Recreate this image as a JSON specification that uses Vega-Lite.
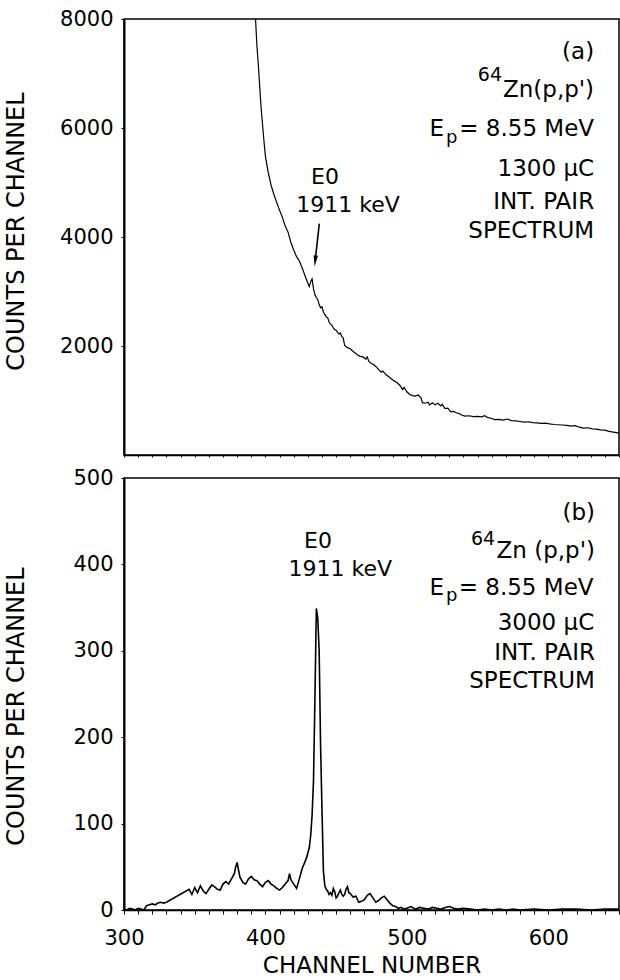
{
  "$schema": "https://vega.github.io/schema/vega-lite/v6.json",
  "padding": {"left": 3, "top": 7, "right": 2, "bottom": 0},
  "background": "white",
  "config": {
    "font": "DejaVu Sans",
    "view": {"stroke": "black", "strokeWidth": 1.5},
    "axis": {"domainColor": "black", "tickColor": "black", "labelColor": "black", "titleColor": "black", "grid": false, "labelFont": "DejaVu Sans", "titleFont": "DejaVu Sans", "titleFontWeight": "normal", "labelFontSize": 21, "titleFontSize": 24},
    "text": {"font": "DejaVu Sans", "color": "black"}
  },
  "datasets": {
    "a": [
      {"channel": 393, "counts": 8000}, {"channel": 394, "counts": 7500}, {"channel": 395, "counts": 7150}, {"channel": 396, "counts": 6750},
      {"channel": 397, "counts": 6350}, {"channel": 398, "counts": 6050}, {"channel": 399, "counts": 5750}, {"channel": 400, "counts": 5480},
      {"channel": 402, "counts": 5180}, {"channel": 404, "counts": 4950}, {"channel": 406, "counts": 4780}, {"channel": 408, "counts": 4630},
      {"channel": 410, "counts": 4490}, {"channel": 412, "counts": 4360}, {"channel": 414, "counts": 4200}, {"channel": 416, "counts": 4090},
      {"channel": 418, "counts": 3900}, {"channel": 420, "counts": 3760}, {"channel": 422, "counts": 3640}, {"channel": 424, "counts": 3560},
      {"channel": 426, "counts": 3430}, {"channel": 428, "counts": 3290}, {"channel": 430, "counts": 3150}, {"channel": 431, "counts": 3090},
      {"channel": 432, "counts": 3180}, {"channel": 433, "counts": 3230}, {"channel": 434, "counts": 3050}, {"channel": 435, "counts": 2940},
      {"channel": 436, "counts": 2890}, {"channel": 437, "counts": 2850}, {"channel": 438, "counts": 2760}, {"channel": 439, "counts": 2700},
      {"channel": 440, "counts": 2720}, {"channel": 441, "counts": 2620}, {"channel": 442, "counts": 2580}, {"channel": 443, "counts": 2530},
      {"channel": 444, "counts": 2520}, {"channel": 445, "counts": 2440}, {"channel": 446, "counts": 2400}, {"channel": 447, "counts": 2380},
      {"channel": 448, "counts": 2330}, {"channel": 449, "counts": 2300}, {"channel": 450, "counts": 2290}, {"channel": 451, "counts": 2250},
      {"channel": 452, "counts": 2220}, {"channel": 453, "counts": 2240}, {"channel": 454, "counts": 2170}, {"channel": 455, "counts": 2150},
      {"channel": 456, "counts": 2010}, {"channel": 457, "counts": 1990}, {"channel": 458, "counts": 1970}, {"channel": 460, "counts": 1950},
      {"channel": 462, "counts": 1900}, {"channel": 463, "counts": 1880}, {"channel": 465, "counts": 1840}, {"channel": 467, "counts": 1810},
      {"channel": 469, "counts": 1800}, {"channel": 471, "counts": 1760}, {"channel": 472, "counts": 1800}, {"channel": 473, "counts": 1720},
      {"channel": 475, "counts": 1680}, {"channel": 477, "counts": 1650}, {"channel": 479, "counts": 1600}, {"channel": 481, "counts": 1540},
      {"channel": 482, "counts": 1520}, {"channel": 483, "counts": 1540}, {"channel": 485, "counts": 1480}, {"channel": 487, "counts": 1440},
      {"channel": 489, "counts": 1400}, {"channel": 491, "counts": 1360}, {"channel": 493, "counts": 1330}, {"channel": 495, "counts": 1280},
      {"channel": 497, "counts": 1200}, {"channel": 498, "counts": 1240}, {"channel": 500, "counts": 1160}, {"channel": 502, "counts": 1110},
      {"channel": 504, "counts": 1090}, {"channel": 506, "counts": 1080}, {"channel": 508, "counts": 1100}, {"channel": 510, "counts": 1050},
      {"channel": 511, "counts": 960}, {"channel": 513, "counts": 950}, {"channel": 515, "counts": 970}, {"channel": 516, "counts": 920},
      {"channel": 518, "counts": 960}, {"channel": 520, "counts": 920}, {"channel": 522, "counts": 950}, {"channel": 524, "counts": 900},
      {"channel": 525, "counts": 930}, {"channel": 527, "counts": 850}, {"channel": 529, "counts": 860}, {"channel": 531, "counts": 790},
      {"channel": 533, "counts": 800}, {"channel": 535, "counts": 775}, {"channel": 537, "counts": 760}, {"channel": 539, "counts": 730},
      {"channel": 541, "counts": 715}, {"channel": 544, "counts": 720}, {"channel": 547, "counts": 705}, {"channel": 550, "counts": 710},
      {"channel": 553, "counts": 700}, {"channel": 555, "counts": 720}, {"channel": 557, "counts": 690}, {"channel": 560, "counts": 670},
      {"channel": 562, "counts": 650}, {"channel": 565, "counts": 655}, {"channel": 568, "counts": 640}, {"channel": 571, "counts": 660},
      {"channel": 574, "counts": 630}, {"channel": 577, "counts": 625}, {"channel": 580, "counts": 615}, {"channel": 583, "counts": 605},
      {"channel": 586, "counts": 610}, {"channel": 589, "counts": 595}, {"channel": 592, "counts": 590}, {"channel": 595, "counts": 580},
      {"channel": 598, "counts": 585}, {"channel": 601, "counts": 570}, {"channel": 604, "counts": 560}, {"channel": 607, "counts": 555},
      {"channel": 610, "counts": 550}, {"channel": 613, "counts": 545}, {"channel": 616, "counts": 530}, {"channel": 619, "counts": 540},
      {"channel": 622, "counts": 510}, {"channel": 625, "counts": 495}, {"channel": 628, "counts": 500}, {"channel": 631, "counts": 480},
      {"channel": 634, "counts": 475}, {"channel": 637, "counts": 460}, {"channel": 640, "counts": 455}, {"channel": 643, "counts": 435},
      {"channel": 646, "counts": 420}, {"channel": 648, "counts": 410}, {"channel": 650, "counts": 400}
    ],
    "b": [
      {"channel": 300, "counts": 1}, {"channel": 302, "counts": 0}, {"channel": 304, "counts": 2}, {"channel": 306, "counts": 1},
      {"channel": 308, "counts": 0}, {"channel": 310, "counts": 2}, {"channel": 312, "counts": 1}, {"channel": 314, "counts": 0},
      {"channel": 316, "counts": 5}, {"channel": 318, "counts": 6}, {"channel": 320, "counts": 7}, {"channel": 322, "counts": 6},
      {"channel": 324, "counts": 8}, {"channel": 326, "counts": 9}, {"channel": 328, "counts": 8}, {"channel": 330, "counts": 9},
      {"channel": 346, "counts": 24}, {"channel": 348, "counts": 18}, {"channel": 350, "counts": 26}, {"channel": 352, "counts": 20},
      {"channel": 354, "counts": 28}, {"channel": 356, "counts": 22}, {"channel": 358, "counts": 19}, {"channel": 360, "counts": 24},
      {"channel": 362, "counts": 29}, {"channel": 364, "counts": 27}, {"channel": 366, "counts": 24}, {"channel": 368, "counts": 23},
      {"channel": 370, "counts": 30}, {"channel": 372, "counts": 33}, {"channel": 374, "counts": 30}, {"channel": 376, "counts": 36},
      {"channel": 378, "counts": 42}, {"channel": 379, "counts": 50}, {"channel": 380, "counts": 55}, {"channel": 381, "counts": 46},
      {"channel": 382, "counts": 38}, {"channel": 384, "counts": 32}, {"channel": 386, "counts": 30}, {"channel": 388, "counts": 36},
      {"channel": 390, "counts": 39}, {"channel": 392, "counts": 35}, {"channel": 394, "counts": 34}, {"channel": 396, "counts": 30},
      {"channel": 398, "counts": 27}, {"channel": 400, "counts": 32}, {"channel": 402, "counts": 34}, {"channel": 404, "counts": 30},
      {"channel": 406, "counts": 28}, {"channel": 408, "counts": 25}, {"channel": 410, "counts": 23}, {"channel": 412, "counts": 26},
      {"channel": 414, "counts": 30}, {"channel": 416, "counts": 34}, {"channel": 417, "counts": 42}, {"channel": 418, "counts": 35},
      {"channel": 420, "counts": 30}, {"channel": 422, "counts": 25}, {"channel": 424, "counts": 36}, {"channel": 426, "counts": 48},
      {"channel": 428, "counts": 56}, {"channel": 429, "counts": 60}, {"channel": 430, "counts": 66}, {"channel": 431, "counts": 72},
      {"channel": 432, "counts": 86}, {"channel": 433, "counts": 110}, {"channel": 434, "counts": 150}, {"channel": 435, "counts": 245},
      {"channel": 436, "counts": 349}, {"channel": 437, "counts": 338}, {"channel": 438, "counts": 300}, {"channel": 439, "counts": 190},
      {"channel": 440, "counts": 115}, {"channel": 441, "counts": 45}, {"channel": 442, "counts": 28}, {"channel": 443, "counts": 24},
      {"channel": 444, "counts": 22}, {"channel": 445, "counts": 18}, {"channel": 446, "counts": 20}, {"channel": 447, "counts": 17},
      {"channel": 448, "counts": 25}, {"channel": 449, "counts": 21}, {"channel": 450, "counts": 14}, {"channel": 451, "counts": 16},
      {"channel": 452, "counts": 20}, {"channel": 453, "counts": 23}, {"channel": 454, "counts": 18}, {"channel": 455, "counts": 16},
      {"channel": 456, "counts": 18}, {"channel": 457, "counts": 24}, {"channel": 458, "counts": 27}, {"channel": 459, "counts": 20},
      {"channel": 460, "counts": 19}, {"channel": 462, "counts": 15}, {"channel": 464, "counts": 16}, {"channel": 466, "counts": 9},
      {"channel": 468, "counts": 10}, {"channel": 470, "counts": 12}, {"channel": 472, "counts": 17}, {"channel": 474, "counts": 19},
      {"channel": 476, "counts": 14}, {"channel": 478, "counts": 9}, {"channel": 480, "counts": 11}, {"channel": 482, "counts": 14},
      {"channel": 484, "counts": 16}, {"channel": 486, "counts": 12}, {"channel": 488, "counts": 8}, {"channel": 490, "counts": 5},
      {"channel": 492, "counts": 4}, {"channel": 494, "counts": 2}, {"channel": 496, "counts": 3}, {"channel": 498, "counts": 1},
      {"channel": 500, "counts": 2}, {"channel": 503, "counts": 4}, {"channel": 506, "counts": 1}, {"channel": 509, "counts": 3},
      {"channel": 512, "counts": 2}, {"channel": 515, "counts": 1}, {"channel": 518, "counts": 3}, {"channel": 521, "counts": 2},
      {"channel": 524, "counts": 1}, {"channel": 527, "counts": 3}, {"channel": 530, "counts": 4}, {"channel": 533, "counts": 2},
      {"channel": 536, "counts": 1}, {"channel": 540, "counts": 2}, {"channel": 545, "counts": 1}, {"channel": 550, "counts": 0},
      {"channel": 555, "counts": 1}, {"channel": 560, "counts": 0}, {"channel": 565, "counts": 1}, {"channel": 570, "counts": 0},
      {"channel": 575, "counts": 1}, {"channel": 580, "counts": 0}, {"channel": 590, "counts": 1}, {"channel": 600, "counts": 0},
      {"channel": 610, "counts": 1}, {"channel": 620, "counts": 1}, {"channel": 630, "counts": 0}, {"channel": 640, "counts": 1},
      {"channel": 650, "counts": 1}
    ],
    "notes": [
      {"panel": "a", "role": "r", "label": "(a)", "channel": 632.4, "counts": 7394},
      {"panel": "a", "role": "r", "label": "Zn(p,p')", "channel": 632.4, "counts": 6697},
      {"panel": "a", "role": "sup", "label": "64", "channel": 567.3, "counts": 6972},
      {"panel": "a", "role": "r", "label": "= 8.55 MeV", "channel": 632.4, "counts": 5982},
      {"panel": "a", "role": "r", "label": "E", "channel": 526.3, "counts": 5982},
      {"panel": "a", "role": "sub", "label": "p", "channel": 527.7, "counts": 5820},
      {"panel": "a", "role": "r", "label": "1300 μC", "channel": 632.4, "counts": 5253},
      {"panel": "a", "role": "r", "label": "INT. PAIR", "channel": 632.4, "counts": 4642},
      {"panel": "a", "role": "r", "label": "SPECTRUM", "channel": 632.4, "counts": 4104},
      {"panel": "a", "role": "c", "label": "E0", "channel": 442.1, "counts": 5101},
      {"panel": "a", "role": "c", "label": "1911 keV", "channel": 458.4, "counts": 4581},
      {"panel": "b", "role": "r", "label": "(b)", "channel": 633, "counts": 460},
      {"panel": "b", "role": "sup", "label": "64", "channel": 562.4, "counts": 429},
      {"panel": "b", "role": "r", "label": "Zn (p,p')", "channel": 633, "counts": 415},
      {"panel": "b", "role": "r", "label": "= 8.55 MeV", "channel": 632, "counts": 373},
      {"panel": "b", "role": "r", "label": "E", "channel": 526.3, "counts": 373},
      {"panel": "b", "role": "sub", "label": "p", "channel": 527.7, "counts": 363},
      {"panel": "b", "role": "r", "label": "3000 μC", "channel": 632.5, "counts": 332},
      {"panel": "b", "role": "r", "label": "INT. PAIR", "channel": 633, "counts": 298},
      {"panel": "b", "role": "r", "label": "SPECTRUM", "channel": 633, "counts": 264.5},
      {"panel": "b", "role": "c", "label": "E0", "channel": 437.2, "counts": 427},
      {"panel": "b", "role": "c", "label": "1911 keV", "channel": 453, "counts": 395}
    ],
    "arrow": [
      {"channel": 438.1, "counts": 4244, "channel2": 435.4, "counts2": 3620}
    ],
    "arrowhead": [
      {"channel": 435.2, "counts": 3560}
    ]
  },
  "spacing": 23,
  "bounds": "flush",
  "vconcat": [
    {
      "width": 495,
      "height": 436,
      "encoding": {
        "x": {"field": "channel", "type": "quantitative", "scale": {"domain": [300, 650], "nice": false, "zero": false},
          "axis": {"values": [300, 310, 320, 330, 340, 350, 360, 370, 380, 390, 400, 410, 420, 430, 440, 450, 460, 470, 480, 490, 500, 510, 520, 530, 540, 550, 560, 570, 580, 590, 600, 610, 620, 630, 640, 650],
            "labels": false, "tickSize": 2, "title": null, "domainWidth": 1.5}},
        "y": {"field": "counts", "type": "quantitative", "scale": {"domain": [0, 8000], "nice": false},
          "axis": {"values": [2000, 4000, 6000, 8000], "format": "d", "tickSize": 3, "labelPadding": 8,
            "title": "COUNTS PER CHANNEL", "titleX": -96, "titleY": 212, "titleAngle": 270, "titleBaseline": "bottom", "domainWidth": 2}}
      },
      "layer": [
        {"data": {"name": "a"}, "mark": {"type": "line", "color": "black", "strokeWidth": 1.2, "clip": true}},
        {"data": {"name": "notes"}, "transform": [{"filter": "datum.panel === 'a' && datum.role === 'r'"}],
          "mark": {"type": "text", "fontSize": 23, "align": "right", "baseline": "middle"}, "encoding": {"text": {"field": "label"}}},
        {"data": {"name": "notes"}, "transform": [{"filter": "datum.panel === 'a' && datum.role === 'sup'"}],
          "mark": {"type": "text", "fontSize": 19, "align": "right", "baseline": "middle"}, "encoding": {"text": {"field": "label"}}},
        {"data": {"name": "notes"}, "transform": [{"filter": "datum.panel === 'a' && datum.role === 'sub'"}],
          "mark": {"type": "text", "fontSize": 18, "align": "left", "baseline": "middle"}, "encoding": {"text": {"field": "label"}}},
        {"data": {"name": "notes"}, "transform": [{"filter": "datum.panel === 'a' && datum.role === 'c'"}],
          "mark": {"type": "text", "fontSize": 22, "align": "center", "baseline": "middle"}, "encoding": {"text": {"field": "label"}}},
        {"data": {"name": "arrow"}, "mark": {"type": "rule", "color": "black", "strokeWidth": 1.6},
          "encoding": {"x2": {"field": "channel2"}, "y2": {"field": "counts2"}}},
        {"data": {"name": "arrowhead"}, "mark": {"type": "point", "shape": "M-0.4,-1L0.4,-1L0,1Z", "filled": true, "color": "black", "size": 120, "opacity": 1, "angle": 6}}
      ]
    },
    {
      "width": 495,
      "height": 432,
      "encoding": {
        "x": {"field": "channel", "type": "quantitative", "scale": {"domain": [300, 650], "nice": false, "zero": false},
          "axis": {"values": [300, 310, 320, 330, 340, 350, 360, 370, 380, 390, 400, 410, 420, 430, 440, 450, 460, 470, 480, 490, 500, 510, 520, 530, 540, 550, 560, 570, 580, 590, 600, 610, 620, 630, 640, 650],
            "labelExpr": "datum.value % 100 === 0 ? datum.label : ''", "labelOverlap": false, "labelFlush": false,
            "tickSize": 4, "labelPadding": 13, "domainWidth": 1.5,
            "title": "CHANNEL NUMBER", "titleFontSize": 23, "titleY": 62, "titleBaseline": "alphabetic"}},
        "y": {"field": "counts", "type": "quantitative", "scale": {"domain": [0, 500], "nice": false},
          "axis": {"values": [0, 100, 200, 300, 400, 500], "tickSize": 3, "labelPadding": 8,
            "title": "COUNTS PER CHANNEL", "titleX": -96, "titleY": 228, "titleAngle": 270, "titleBaseline": "bottom", "domainWidth": 2}}
      },
      "layer": [
        {"data": {"name": "b"}, "mark": {"type": "line", "color": "black", "strokeWidth": 1.6, "clip": true}},
        {"data": {"name": "notes"}, "transform": [{"filter": "datum.panel === 'b' && datum.role === 'r'"}],
          "mark": {"type": "text", "fontSize": 23, "align": "right", "baseline": "middle"}, "encoding": {"text": {"field": "label"}}},
        {"data": {"name": "notes"}, "transform": [{"filter": "datum.panel === 'b' && datum.role === 'sup'"}],
          "mark": {"type": "text", "fontSize": 19, "align": "right", "baseline": "middle"}, "encoding": {"text": {"field": "label"}}},
        {"data": {"name": "notes"}, "transform": [{"filter": "datum.panel === 'b' && datum.role === 'sub'"}],
          "mark": {"type": "text", "fontSize": 18, "align": "left", "baseline": "middle"}, "encoding": {"text": {"field": "label"}}},
        {"data": {"name": "notes"}, "transform": [{"filter": "datum.panel === 'b' && datum.role === 'c'"}],
          "mark": {"type": "text", "fontSize": 22, "align": "center", "baseline": "middle"}, "encoding": {"text": {"field": "label"}}}
      ]
    }
  ]
}
